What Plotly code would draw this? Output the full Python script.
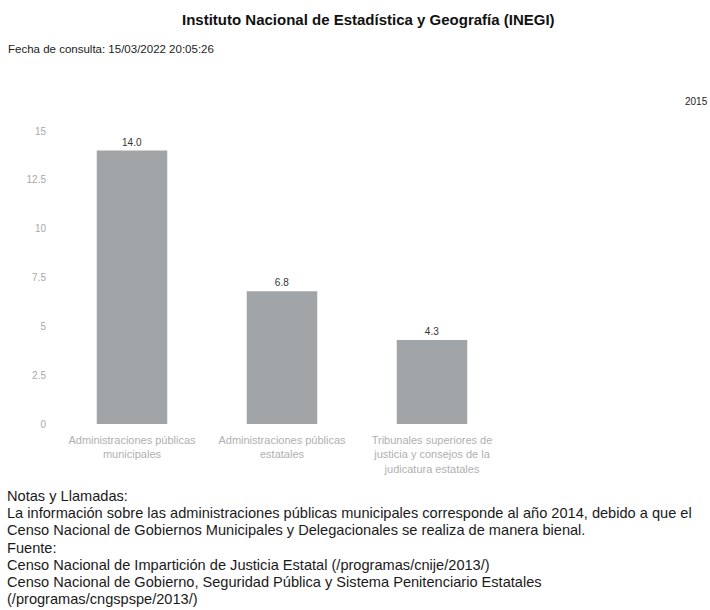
import plotly.graph_objects as go

categories = [
    "Administraciones públicas<br>municipales",
    "Administraciones públicas<br>estatales",
    "Tribunales superiores de<br>justicia y consejos de la<br>judicatura estatales",
]
values = [14.0, 6.8, 4.3]
tick_vals = [0, 2.5, 5, 7.5, 10, 12.5, 15]
tick_text = ["0", "2.5", "5", "7.5", "10", "12.5", "15"]

title_text = "Instituto Nacional de Estadística y Geografía (INEGI)"
date_text = "Fecha de consulta: 15/03/2022 20:05:26"
year_text = "2015"
note_lines = [
    "Notas y Llamadas:",
    "La información sobre las administraciones públicas municipales corresponde al año 2014, debido a que el",
    "Censo Nacional de Gobiernos Municipales y Delegacionales se realiza de manera bienal.",
    "Fuente:",
    "Censo Nacional de Impartición de Justicia Estatal (/programas/cnije/2013/)",
    "Censo Nacional de Gobierno, Seguridad Pública y Sistema Penitenciario Estatales",
    "(/programas/cngspspe/2013/)",
]

W, H = 710, 610
L, R, T, B = 57, 507, 131, 424

def px(x):
    return (x - L) / (R - L)

def py(y):
    return (B - y) / (B - T)

font_main = "Liberation Sans, Arial, sans-serif"

fig = go.Figure(
    go.Bar(
        x=categories,
        y=values,
        marker=dict(color="#a2a5a8", line=dict(width=0)),
        text=[f"{v:.1f}" for v in values],
        textposition="outside",
        textfont=dict(size=10, color="#333333", family=font_main),
        cliponaxis=False,
    )
)

annotations = [
    dict(text="<b>" + title_text + "</b>", x=px(368), y=py(20), xanchor="center", yanchor="middle",
         font=dict(size=15, color="#111111", family=font_main)),
    dict(text=date_text, x=px(6), y=py(49), xanchor="left", yanchor="middle",
         font=dict(size=11.5, color="#222222", family=font_main)),
    dict(text=year_text, x=px(683), y=py(101), xanchor="left", yanchor="middle",
         font=dict(size=10, color="#222222", family=font_main)),
]
y0 = 496
for i, line in enumerate(note_lines):
    annotations.append(
        dict(text=line, x=px(5), y=py(y0 + i * 17.2), xanchor="left", yanchor="middle",
             font=dict(size=14.6, color="#1a1a1a", family=font_main))
    )
for a in annotations:
    a.update(xref="paper", yref="paper", showarrow=False)

fig.update_layout(
    width=W, height=H,
    margin=dict(l=L, r=W - R, t=T, b=H - B, pad=0),
    paper_bgcolor="white", plot_bgcolor="white",
    showlegend=False,
    bargap=0.53,
    annotations=annotations,
    xaxis=dict(showgrid=False, showline=False, zeroline=False, ticks="", ticklabelstandoff=8,
               tickfont=dict(size=11, color="#b0b0b0", family=font_main), tickangle=0),
    yaxis=dict(range=[0, 15], tickvals=tick_vals, ticktext=tick_text, showgrid=False,
               showline=False, zeroline=False, ticks="", ticklabelstandoff=10,
               tickfont=dict(size=10, color="#a8a8a8", family=font_main)),
)

fig.write_html("out.html", config={"displayModeBar": False},
               post_script="document.body.style.margin='0px';")
